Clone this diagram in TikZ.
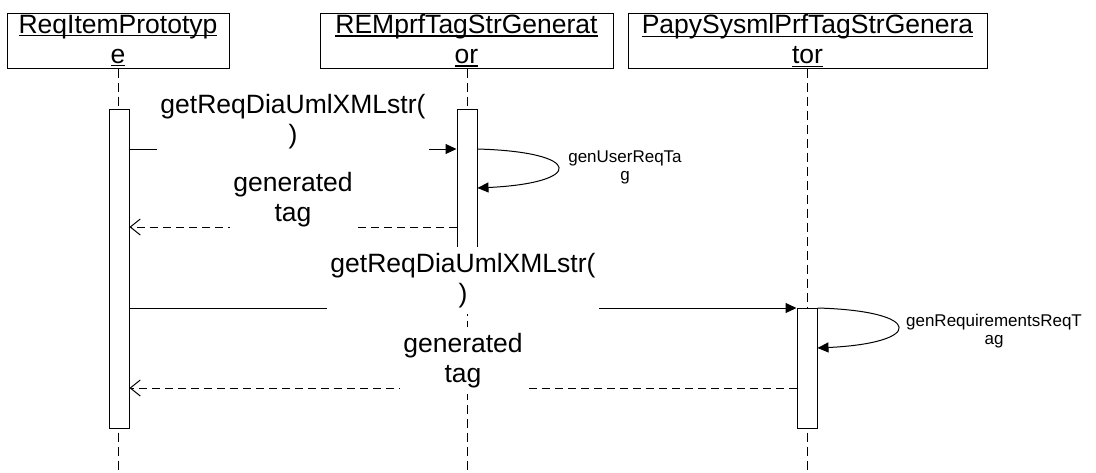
\documentclass[tikz,border=0pt]{standalone}
\usepackage{fontspec}
\setmainfont{Liberation Sans}
\usetikzlibrary{arrows.meta}

% underline at a fixed distance below the baseline
\newcommand\ulin[1]{\setbox0\hbox{#1}\rlap{\rule[-3pt]{\wd0}{1.1pt}}\box0}

\begin{document}
\begin{tikzpicture}[x=1pt,y=-1pt,line width=1pt,
  objbox/.style={draw, fill=white, minimum width=#1, minimum height=55pt,
    inner sep=0pt, align=center, font=\fontsize{26.5}{30}\selectfont},
  act/.style={draw, fill=white, minimum width=20pt, inner sep=0pt},
  life/.style={dash pattern=on 9pt off 5pt},
  call/.style={-{Triangle[length=11pt,width=10pt]}},
  reply/.style={dash pattern=on 8pt off 5pt, -{Straight Barb[length=10pt,width=16pt]}},
  msg/.style={fill=white, inner xsep=3pt, inner ysep=6pt, anchor=south, yshift=-6pt,
    align=center, font=\fontsize{26.5}{30}\selectfont},
  note/.style={align=center, inner sep=0pt, font=\fontsize{17}{18}\selectfont}]

\useasboundingbox (0,0) rectangle (1096,472);

% objects
\node[objbox=222pt] (o1) at (118,40.5) {\ulin{ReqItemPrototyp}\\\ulin{e}};
\node[objbox=293pt] (o2) at (466.5,40.5) {\ulin{REMprfTagStrGenerat}\\\ulin{or}};
\node[objbox=359pt] (o3) at (807.5,40.5) {\ulin{PapySysmlPrfTagStrGenera}\\\ulin{tor}};

% lifelines
\coordinate (e1) at (118,472);
\coordinate (e2) at (467,472);
\coordinate (e3) at (807,472);
\draw[life] (o1.south) -- (e1);
\draw[life] (o2.south -| e2) -- (e2);
\draw[life] (o3.south -| e3) -- (e3);

% activations
\node[act, minimum height=319pt] (a1) at (119,268.5) {};
\node[act, minimum height=153pt] (a2) at (467,185.5) {};
\node[act, minimum height=120pt] (a3) at (807,368) {};

% message levels
\coordinate (m1) at (0,149);
\coordinate (k1) at (0,188);
\coordinate (r1) at (0,227);
\coordinate (m2) at (0,308);
\coordinate (k2) at (0,348);
\coordinate (r2) at (0,388);

% first exchange
\draw[call] (a1.east |- m1) -- node[msg] (l1) {getReqDiaUmlXMLstr(\\)} (a2.west |- m1);
\draw[call] (a2.east |- m1) .. controls +(107,3) and +(107,-5) .. (a2.east |- k1);
\node[note] (n1) at (625,167) {genUserReqTa\\g};
\draw[reply] (a2.west |- r1) -- node[msg] (l2) {generated\\tag} (a1.east |- r1);

% second exchange
\draw[call] (a1.east |- m2) -- node[msg] (l3) {getReqDiaUmlXMLstr(\\)} (a3.west |- m2);
\draw[call] (a3.east |- m2) .. controls +(107,3) and +(107,-5) .. (a3.east |- k2);
\node[note] (n2) at (994,331) {genRequirementsReqT\\ag};
\draw[reply] (a3.west |- r2) -- node[msg] (l4) {generated\\tag} (a1.east |- r2);

\end{tikzpicture}
\end{document}
